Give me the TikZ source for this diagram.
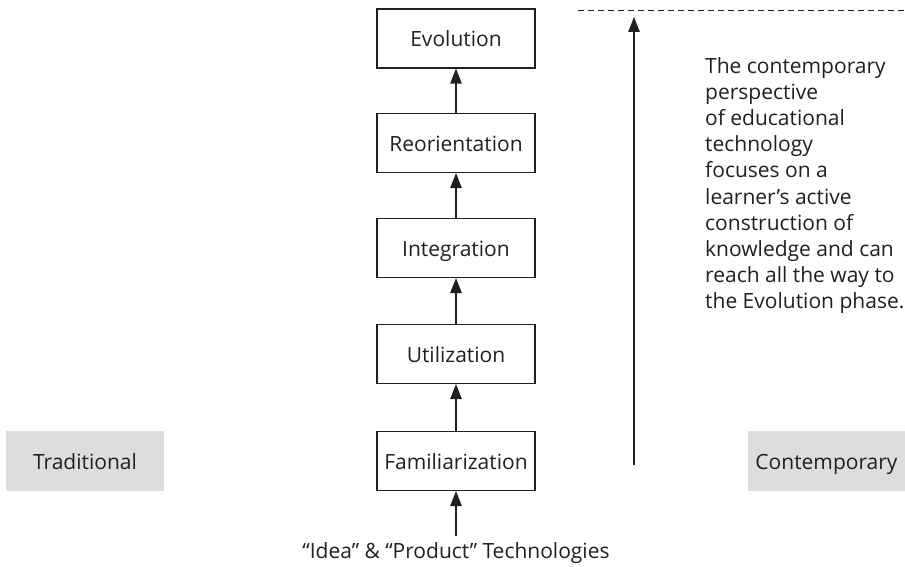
\documentclass[tikz,border=0pt]{standalone}
\usepackage{fontspec}
\setmainfont{Open Sans}
\usetikzlibrary{arrows.meta}
\definecolor{ink}{HTML}{231F20}
\definecolor{graybox}{HTML}{DCDDDF}
\begin{document}
\begin{tikzpicture}[x=1pt,y=-1pt,
  stage/.style={draw=ink,line width=1.1pt,minimum width=158pt,minimum height=59pt,inner sep=0pt,text height=17pt,text depth=0pt,font=\fontsize{21}{24}\selectfont,text=ink},
  side/.style={fill=graybox,minimum width=158pt,minimum height=60pt,inner sep=0pt,text height=17pt,text depth=0pt,font=\fontsize{21}{24}\selectfont,text=ink},
  arr/.style={draw=ink,line width=1.1pt,-{Triangle[length=15pt,width=11.5pt]}}]
\useasboundingbox (0,0) rectangle (905,567);
\node[stage] (evo) at (456,38.5) {Evolution};
\node[stage] (reo) at (456,143) {Reorientation};
\node[stage] (int) at (456,248) {Integration};
\node[stage] (uti) at (456,354) {Utilization};
\node[stage] (fam) at (456,461) {Familiarization};
\node[side] (trad) at (85,461) {Traditional};
\node[side] (cont) at (826.5,461) {Contemporary};
\node[text=ink,font=\fontsize{21}{24}\selectfont,anchor=base,inner sep=0pt] (idea) at (456,558) {“Idea” \& “Product” Technologies};
\coordinate (ideatop) at (456,536);
\draw[arr] (ideatop) -- (fam.south);
\draw[arr] (fam.north) -- (uti.south);
\draw[arr] (uti.north) -- (int.south);
\draw[arr] (int.north) -- (reo.south);
\draw[arr] (reo.north) -- (evo.south);
\coordinate (bigbot) at (634,465);
\coordinate (bigtop) at (634,17);
\draw[arr] (bigbot) -- (bigtop);
\coordinate (dashl) at (578,10);
\coordinate (dashr) at (905,10);
\draw[ink,line width=0.9pt,dash pattern=on 6pt off 4pt] (dashl) -- (dashr);
\node[anchor=north west,align=left,text=ink,inner sep=0pt,font=\fontsize{21}{26.2}\selectfont] (para) at (705,57) {The contemporary\\perspective\\of educational\\technology\\focuses on a\\learner’s active\\construction of\\knowledge and can\\reach all the way to\\the Evolution phase.};
\end{tikzpicture}
\end{document}
